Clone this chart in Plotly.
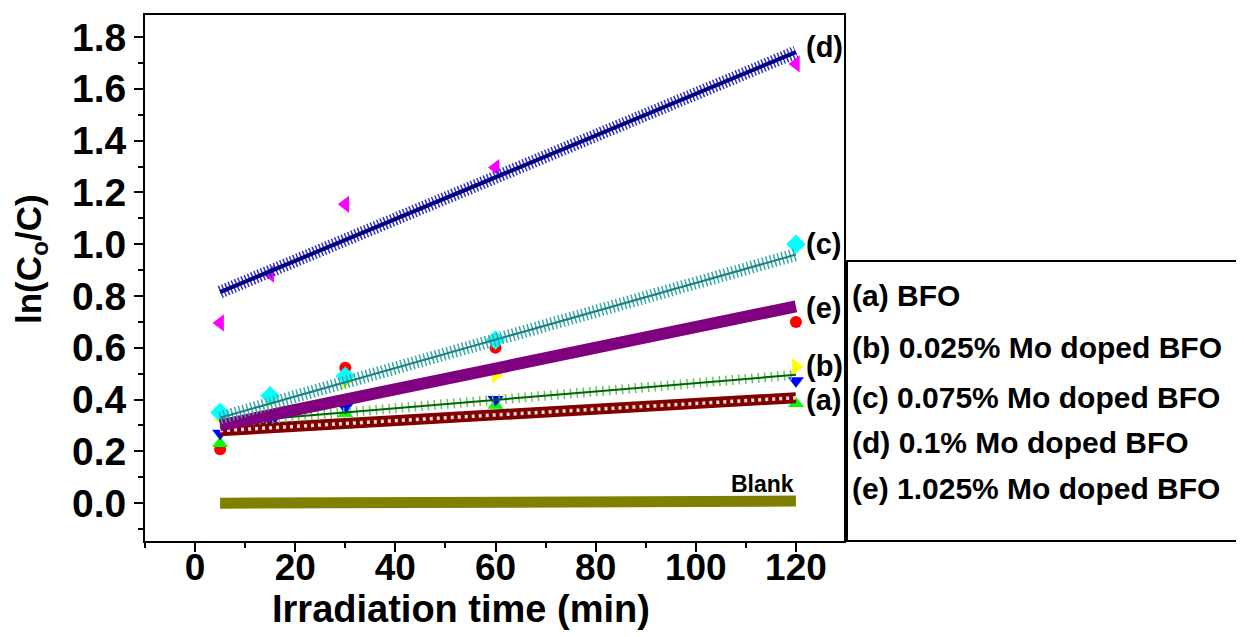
import plotly.graph_objects as go

# ---------------- data ----------------
time_min = [5, 15, 30, 60, 120]

pts_a_green = [0.23, 0.29, 0.346, 0.378, 0.385]
pts_b_blue = [0.27, 0.31, 0.37, 0.40, 0.473]
pts_b_yellow = [0.34, 0.40, 0.47, 0.495, 0.527]
pts_c_cyan = [0.35, 0.415, 0.49, 0.63, 1.00]
pts_d_magenta = [0.696, 0.885, 1.154, 1.296, 1.696]
pts_e_red = [0.208, 0.34, 0.523, 0.600, 0.700]

fit_x = [5, 120]
fit_a = [0.280, 0.407]
fit_b = [0.310, 0.496]
fit_c = [0.330, 0.960]
fit_d = [0.815, 1.742]
fit_e = [0.300, 0.760]
fit_blank = [0.000, 0.008]

legend_labels = ["(a) BFO", "(b) 0.025% Mo doped BFO", "(c) 0.075% Mo doped BFO",
                 "(d) 0.1% Mo doped BFO", "(e) 1.025% Mo doped BFO"]
curve_tags = ["(d)", "(c)", "(e)", "(b)", "(a)"]
curve_tag_y = [1.76, 1.00, 0.755, 0.53, 0.40]

x_ticks = [0, 20, 40, 60, 80, 100, 120]
y_ticks = [0.0, 0.2, 0.4, 0.6, 0.8, 1.0, 1.2, 1.4, 1.6, 1.8]

FONT = "Arial, 'Liberation Sans', Helvetica, sans-serif"

# ---------------- geometry (reference page pixels) ----------------
BODY = 8                      # default html body margin
W, H = 1244 - BODY, 637 - BODY
L, R, T, B = 145, 844, 13, 541   # plot-area edges in page pixels


def px_x(p):
    return (p - L) / (R - L)


def px_y(p):
    return (B - p) / (B - T)


fig = go.Figure()


def pts(y, sym, color, size):
    fig.add_trace(go.Scatter(x=time_min, y=y, mode="markers",
                             marker=dict(symbol=sym, color=color, size=size, line=dict(width=0)),
                             showlegend=False, hoverinfo="skip"))


pts(pts_e_red, "circle", "#ff0000", 12)
pts(pts_a_green, "triangle-up", "#00ff00", 14)
pts(pts_b_blue, "triangle-down", "#0000ff", 14)
pts(pts_b_yellow, "triangle-right", "#ffff00", 15)
pts(pts_c_cyan, "diamond", "#00ffff", 15)
pts(pts_d_magenta, "triangle-left", "#ff00ff", 15)


def line(y, color, width, dash="solid"):
    fig.add_trace(go.Scatter(x=fit_x, y=y, mode="lines",
                             line=dict(color=color, width=width, dash=dash),
                             showlegend=False, hoverinfo="skip"))


# blank
line(fit_blank, "#808000", 11)
# (a) maroon circles with white centres
line(fit_a, "#800000", 11)
line(fit_a, "#f4dede", 3.5, "3px,4px")
# (b) green plus
line(fit_b, "#6cc06c", 10, "1.5px,5px")
line(fit_b, "#006400", 2)
# (e) purple
line(fit_e, "#800080", 12)
# (c) teal crosses
line(fit_c, "#3aa8a8", 13, "1.5px,2.5px")
line(fit_c, "#1d8080", 2)
# (d) navy stars
line(fit_d, "#3030c0", 13, "1.5px,2px")
line(fit_d, "#000080", 4)

axis_common = dict(showline=True, linecolor="black", linewidth=2, mirror=True,
                   ticks="outside", tickcolor="black", tickwidth=2,
                   showgrid=False, zeroline=False)

fig.update_xaxes(range=[-10, 129.6], tickvals=x_ticks, ticklen=9, ticklabelstandoff=-16,
                 tickfont=dict(family=FONT, size=37, color="black", weight="bold"),
                 minor=dict(dtick=10, tick0=0, ticks="outside", ticklen=5, tickwidth=2, tickcolor="black"),
                 **axis_common)
fig.update_yaxes(range=[-0.146, 1.885], tickvals=y_ticks, ticktext=[f"{v:.1f}" for v in y_ticks],
                 ticklen=9,
                 tickfont=dict(family=FONT, size=39, color="black", weight="bold"),
                 minor=dict(dtick=0.1, tick0=0, ticks="outside", ticklen=5, tickwidth=2, tickcolor="black"),
                 **axis_common)

ann = []
ann.append(dict(text="<b>Irradiation time (min)</b>", xref="paper", yref="paper",
                x=px_x(461), y=px_y(609), xanchor="center", yanchor="middle", showarrow=False,
                font=dict(family=FONT, size=38, color="black")))
ann.append(dict(text="<b>ln(C<sub>o</sub>/C)</b>", xref="paper", yref="paper",
                x=px_x(31), y=px_y(258), xanchor="center", yanchor="middle", showarrow=False,
                textangle=-90, font=dict(family=FONT, size=35, color="black")))
for tag, yv in zip(curve_tags, curve_tag_y):
    ann.append(dict(text=f"<b>{tag}</b>", xref="paper", yref="y", x=px_x(804), y=yv,
                    xanchor="left", yanchor="middle", showarrow=False,
                    font=dict(family=FONT, size=29, color="black")))
ann.append(dict(text="<b>Blank</b>", xref="x", yref="y", x=120, y=0.075,
                xanchor="right", yanchor="middle", showarrow=False,
                font=dict(family=FONT, size=23, color="black")))
leg_y = [295, 347, 397, 442, 488]
for lab, yp in zip(legend_labels, leg_y):
    ann.append(dict(text=f"<b>{lab}</b>", xref="paper", yref="paper", x=px_x(850), y=px_y(yp),
                    xanchor="left", yanchor="middle", showarrow=False,
                    font=dict(family=FONT, size=30, color="black")))

shapes = [dict(type="rect", xref="paper", yref="paper", x0=px_x(847), x1=px_x(1260),
               y0=px_y(541), y1=px_y(260), line=dict(color="black", width=2), fillcolor="rgba(0,0,0,0)")]

fig.update_layout(width=W, height=H, autosize=False,
                  margin=dict(l=L - BODY, r=W - (R - BODY), t=T - BODY, b=H - (B - BODY), pad=0),
                  paper_bgcolor="white", plot_bgcolor="white",
                  annotations=ann, shapes=shapes, showlegend=False)

fig.write_html("out.html")
